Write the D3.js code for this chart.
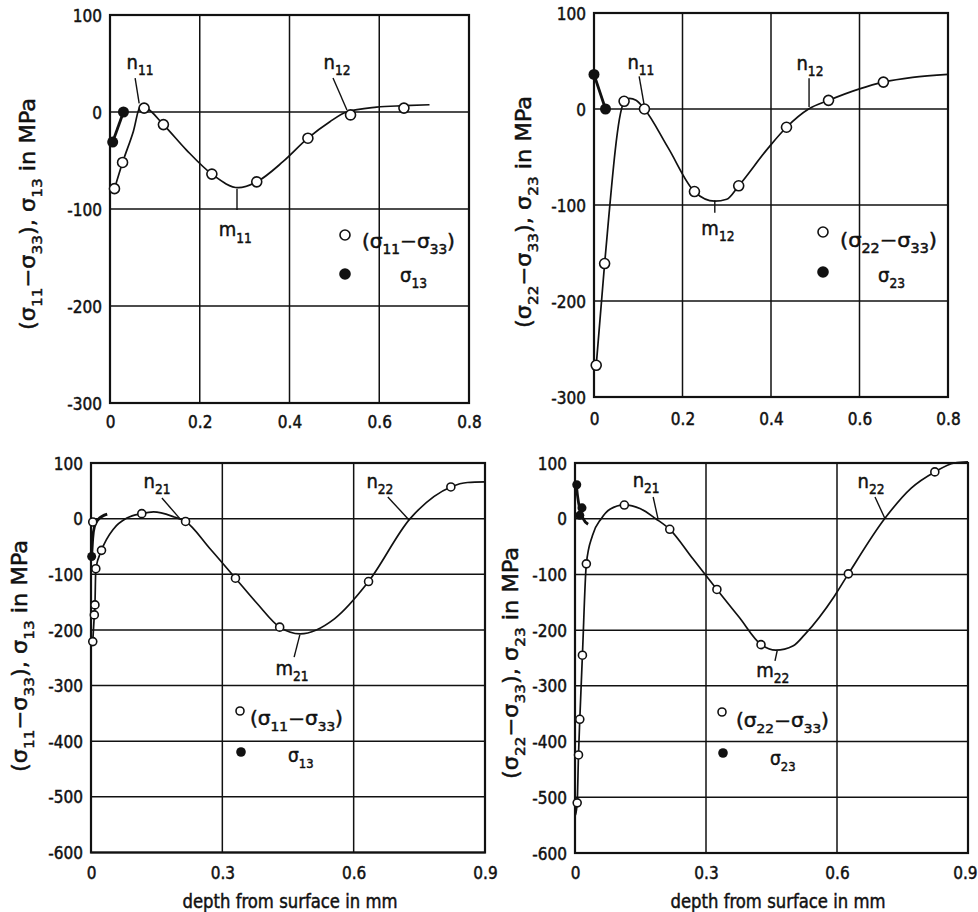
<!DOCTYPE html>
<html><head><meta charset="utf-8">
<script src="https://cdn.jsdelivr.net/npm/d3@7"></script>
<style>
body{margin:0;background:#fff}
text{font-family:"DejaVu Sans Condensed","DejaVu Sans","Liberation Sans",sans-serif;font-stretch:condensed;fill:#111;stroke:#111;stroke-width:0.45px}
</style></head><body>
<svg id="c" width="978" height="912"></svg>
<script>
// ---------- data (depth in mm, stress in MPa) ----------
const open1   = [[0.010,-79],[0.028,-52],[0.076,4],[0.119,-13],[0.227,-64],[0.327,-72],[0.441,-27],[0.536,-3],[0.655,4]];
const filled1 = [[0.006,-31],[0.030,0]];
const curve1  = [[0.010,-79],[0.028,-52],[0.052,-20],[0.068,6],[0.078,5],[0.119,-13],[0.17,-39],[0.227,-64],[0.286,-78],[0.327,-72],[0.386,-51],[0.441,-27],[0.49,-10],[0.527,0],[0.594,5],[0.655,6.5],[0.712,7.5]];
const fline1  = [[0.006,-31],[0.030,0]];

const open2   = [[0.005,-267],[0.024,-161],[0.068,8],[0.114,0],[0.227,-86],[0.327,-80],[0.435,-19],[0.53,9],[0.654,28]];
const filled2 = [[0.0,36],[0.026,0]];
const curve2  = [[0.005,-267],[0.024,-161],[0.066,5],[0.08,11],[0.095,9],[0.114,0],[0.167,-40],[0.227,-86],[0.273,-96],[0.30,-94],[0.327,-80],[0.393,-41],[0.435,-19],[0.485,0],[0.53,9],[0.60,21],[0.654,28],[0.72,33],[0.8,36]];
const fline2  = [[0.0,36],[0.026,0]];

const open3   = [[0.004,-221],[0.0076,-173],[0.009,-155],[0.011,-90],[0.024,-57],[0.004,-6],[0.116,9],[0.216,-5],[0.33,-107],[0.431,-195],[0.634,-113],[0.822,57]];
const filled3 = [[0.0015,-68]];
const curve3  = [[0.004,-221],[0.0076,-173],[0.009,-155],[0.011,-90],[0.024,-57],[0.052,-18],[0.082,1],[0.116,9],[0.143,12],[0.19,3],[0.216,-5],[0.272,-54],[0.33,-107],[0.379,-152],[0.431,-195],[0.478,-207],[0.556,-180],[0.634,-113],[0.729,0],[0.822,57],[0.86,65],[0.9,66]];
const fline3  = [[0.0015,-68],[0.004,-35],[0.008,-14],[0.016,-2],[0.037,8]];

const open4   = [[0.005,-510],[0.008,-424],[0.011,-360],[0.017,-245],[0.026,-81],[0.113,24.5],[0.217,-19],[0.325,-127],[0.426,-226],[0.626,-99],[0.824,84]];
const filled4 = [[0.004,61],[0.016,19.5],[0.011,6]];
const curve4  = [[0.001,-532],[0.005,-510],[0.008,-424],[0.011,-360],[0.017,-245],[0.026,-81],[0.04,-30],[0.06,0],[0.08,17],[0.113,25],[0.15,18],[0.185,0],[0.217,-19],[0.27,-72],[0.325,-127],[0.376,-177],[0.426,-226],[0.46,-236],[0.5,-228],[0.526,-208],[0.594,-139],[0.626,-99],[0.709,0],[0.77,55],[0.824,84],[0.869,100],[0.9,102]];
const fline4  = [[0.003,62],[0.006,40],[0.011,17],[0.018,1],[0.030,-10]];

const xTicksTop = [0,0.2,0.4,0.6,0.8];
const xTickLabelsTop = ["0","0.2","0.4","0.6","0.8"];
const yTicksTop = [100,0,-100,-200,-300];
const xTicksBot = [0,0.3,0.6,0.9];
const xTickLabelsBot = ["0","0.3","0.6","0.9"];
const yTicksBot = [100,0,-100,-200,-300,-400,-500,-600];

// annotations: [name, sub, labelX, labelY, leaderFrom, leaderTo]
const ann1 = [["n","11",0.067,50,[0.056,35],[0.065,9]],["n","12",0.506,50,[0.497,35],[0.528,2]],["m","11",0.279,-123,[0.283,-79],[0.283,-101]]];
const ann2 = [["n","11",0.106,47,[0.102,34],[0.113,5]],["n","12",0.488,46,[0.486,32],[0.486,2]],["m","12",0.28,-126,[0.273,-95],[0.273,-108]]];
const ann3 = [["n","21",0.151,64,[0.162,37],[0.203,0]],["n","22",0.66,64,[0.678,39],[0.726,-2]],["m","21",0.459,-272,[0.477,-209],[0.464,-249]]];
const ann4 = [["n","21",0.163,66,[0.179,39],[0.19,0]],["n","22",0.678,64,[0.687,39],[0.71,0]],["m","22",0.453,-275,[0.463,-237],[0.458,-255]]];

// ---------- layout ----------
const panels = [
  {x:[110,469], y:[403,15], xd:[0,0.8], yd:[-300,100], xt:xTicksTop, xl:xTickLabelsTop, yt:yTicksTop, xlabY:428, r:5,
   open:open1, filled:filled1, curve:curve1, fline:fline1, ann:ann1, ylab:[28,214], ysub:["11","33","13"],
   leg:{ox:345,oy:235,tx:362,ty:248,tw:93,fx:345,fy:274,sx:400,sy:282,a:"11",b:"33",c:"13",fs:20}, xtitle:null},
  {x:[594,948], y:[397,13], xd:[0,0.8], yd:[-300,100], xt:xTicksTop, xl:xTickLabelsTop, yt:yTicksTop, xlabY:425, r:5,
   open:open2, filled:filled2, curve:curve2, fline:fline2, ann:ann2, ylab:[524,212], ysub:["22","33","23"],
   leg:{ox:823,oy:232,tx:840,ty:247,tw:97,fx:823,fy:272,sx:878,sy:282,a:"22",b:"33",c:"23",fs:20}, xtitle:null},
  {x:[91,485], y:[852.5,463], xd:[0,0.9], yd:[-600,100], xt:xTicksBot, xl:xTickLabelsBot, yt:yTicksBot, xlabY:879, r:4,
   open:open3, filled:filled3, curve:curve3, fline:fline3, ann:ann3, ylab:[20,656], ysub:["11","33","13"],
   leg:{ox:240,oy:711,tx:250,ty:725,tw:93,fx:241,fy:752,sx:288,sy:762,a:"11",b:"33",c:"13",fs:19}, xtitle:[290,908]},
  {x:[575,968], y:[853,463], xd:[0,0.9], yd:[-600,100], xt:xTicksBot, xl:xTickLabelsBot, yt:yTicksBot, xlabY:879, r:4,
   open:open4, filled:filled4, curve:curve4, fline:fline4, ann:ann4, ylab:[511,663], ysub:["22","33","23"],
   leg:{ox:722,oy:712,tx:736,ty:727,tw:93,fx:723,fy:753,sx:770,sy:765,a:"22",b:"33",c:"23",fs:19}, xtitle:[778,908]}
];

const svg = d3.select("#c");

function rich(sel, parts, fs){
  const subShift = fs*0.32;
  let prevSub = false;
  parts.forEach(([s,sub])=>{
    const t = sel.append("tspan").text(s);
    if(sub){ t.attr("font-size", fs*0.68).attr("dy", prevSub?0:subShift); }
    else { t.attr("font-size", fs).attr("dy", prevSub?-subShift:0); }
    prevSub = sub;
  });
}

panels.forEach((p,pi)=>{
  const xs = d3.scaleLinear().domain(p.xd).range(p.x);
  const ys = d3.scaleLinear().domain(p.yd).range(p.y);
  const g = svg.append("g");

  // grid
  g.selectAll(".gx").data(p.xt).join("line")
    .attr("x1",d=>xs(d)).attr("x2",d=>xs(d)).attr("y1",p.y[0]).attr("y2",p.y[1])
    .attr("stroke","#111").attr("stroke-width",1.5);
  g.selectAll(".gy").data(p.yt).join("line")
    .attr("y1",d=>ys(d)).attr("y2",d=>ys(d)).attr("x1",p.x[0]).attr("x2",p.x[1])
    .attr("stroke","#111").attr("stroke-width",1.5);
  g.append("rect").attr("x",p.x[0]).attr("y",p.y[1]).attr("width",p.x[1]-p.x[0]).attr("height",p.y[0]-p.y[1])
    .attr("fill","none").attr("stroke","#111").attr("stroke-width",2.2);

  const ff = '"DejaVu Sans Condensed","DejaVu Sans","Liberation Sans",sans-serif';
  const ax = g.append("g").attr("transform",`translate(0,${p.y[0]})`)
    .call(d3.axisBottom(xs).tickValues(p.xt).tickFormat((d,i)=>p.xl[i]).tickSize(0).tickPadding(0));
  ax.select(".domain").remove();
  ax.selectAll("text").attr("y", p.xlabY - p.y[0]).attr("dy",0).attr("font-size",17)
    .style("font-family",ff).style("font-stretch","condensed").attr("fill","#111")
    .attr("text-anchor",(d,i)=> (pi===3 && i===p.xt.length-1) ? "end" : "middle")
    .attr("dx",(d,i)=> (pi===3 && i===p.xt.length-1) ? 9 : 0);
  const ay = g.append("g").attr("transform",`translate(${p.x[0]},0)`)
    .call(d3.axisLeft(ys).tickValues(p.yt).tickFormat(d=>String(d)).tickSize(0).tickPadding(8));
  ay.select(".domain").remove();
  ay.selectAll("text").attr("font-size",17).attr("dy","0.36em")
    .style("font-family",ff).style("font-stretch","condensed").attr("fill","#111");

  // curves
  const line = d3.line().x(d=>xs(d[0])).y(d=>ys(d[1])).curve(d3.curveMonotoneX);
  g.append("path").attr("d",line(p.curve)).attr("fill","none").attr("stroke","#111").attr("stroke-width",1.7);
  g.append("path").attr("d",line(p.fline)).attr("fill","none").attr("stroke","#111").attr("stroke-width",2.8);

  // points
  g.selectAll(".op").data(p.open).join("circle")
    .attr("cx",d=>xs(d[0])).attr("cy",d=>ys(d[1])).attr("r",p.r)
    .attr("fill","#fff").attr("stroke","#111").attr("stroke-width",1.6);
  g.selectAll(".fp").data(p.filled).join("circle")
    .attr("cx",d=>xs(d[0])).attr("cy",d=>ys(d[1])).attr("r",p.r+0.5)
    .attr("fill","#111");

  // annotations
  p.ann.forEach(a=>{
    g.append("line").attr("x1",xs(a[4][0])).attr("y1",ys(a[4][1])).attr("x2",xs(a[5][0])).attr("y2",ys(a[5][1]))
      .attr("stroke","#111").attr("stroke-width",1.4);
    const t = g.append("text").attr("x",xs(a[2])).attr("y",ys(a[3])+5).attr("text-anchor","middle");
    rich(t,[[a[0],false],[a[1],true]],20);
  });

  // legend
  const L = p.leg;
  g.append("circle").attr("cx",L.ox).attr("cy",L.oy).attr("r",p.r).attr("fill","#fff").attr("stroke","#111").attr("stroke-width",1.6);
  const t1 = g.append("text").attr("x",L.tx).attr("y",L.ty).attr("textLength",L.tw).attr("lengthAdjust","spacingAndGlyphs");
  rich(t1,[["(σ",false],[L.a,true],["−σ",false],[L.b,true],[")",false]],L.fs);
  g.append("circle").attr("cx",L.fx).attr("cy",L.fy).attr("r",p.r+0.8).attr("fill","#111");
  const t2 = g.append("text").attr("x",L.sx).attr("y",L.sy);
  rich(t2,[["σ",false],[L.c,true]],L.fs);

  // y title
  const yt = g.append("text").attr("transform",`translate(${p.ylab[0]+7},${p.ylab[1]}) rotate(-90)`).attr("text-anchor","middle")
    .attr("textLength",232).attr("lengthAdjust","spacingAndGlyphs");
  rich(yt,[["(σ",false],[p.ysub[0],true],["−σ",false],[p.ysub[1],true],["), σ",false],[p.ysub[2],true],["  in MPa",false]],21);

  if(p.xtitle){
    g.append("text").attr("x",p.xtitle[0]).attr("y",p.xtitle[1]).attr("text-anchor","middle").attr("font-size",19)
      .attr("textLength",215).attr("lengthAdjust","spacingAndGlyphs")
      .text("depth from surface in mm");
  }
});
</script>
</body></html>
